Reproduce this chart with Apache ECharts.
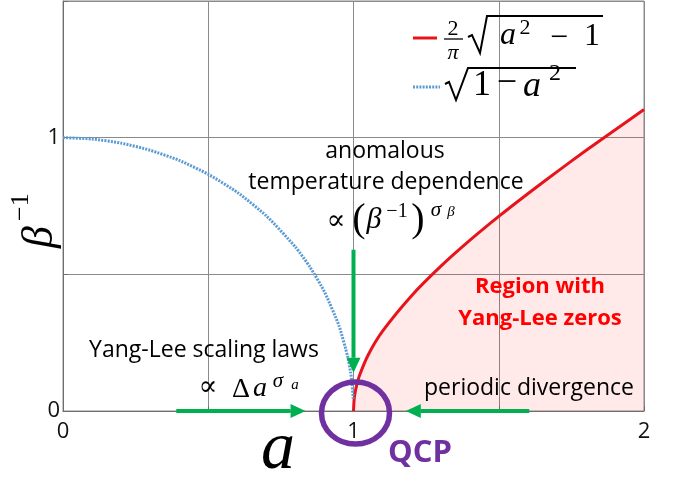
<!DOCTYPE html>
<html><head><meta charset="utf-8">
<script src="https://cdn.jsdelivr.net/npm/echarts@6/dist/echarts.min.js"></script>
<style>html,body{margin:0;padding:0;background:#fff}#c{width:678px;height:478px}</style>
</head><body><div id="c"></div>
<script>
// ---- data ----
const xTickLabels = {0: '0', 1: '1', 2: '2'};
const yTickLabels = {0: '0', 1: '1'};
// blue dotted curve  sqrt(1 - a^2)
const blueA    = [0, 0.1, 0.2, 0.3, 0.4, 0.5, 0.6, 0.7, 0.8, 0.85, 0.9, 0.95, 0.98, 0.99, 0.995, 0.999];
const blueBeta = [1, 0.995, 0.98, 0.954, 0.917, 0.866, 0.8, 0.714, 0.6, 0.527, 0.436, 0.312, 0.199, 0.141, 0.1, 0.045];
// red curve (2/pi) sqrt(a^2 - 1)
const redA    = [1, 1.002, 1.005, 1.01, 1.02, 1.05, 1.1, 1.2, 1.3, 1.4, 1.5, 1.6, 1.7, 1.8, 1.9, 2.0];
const redBeta = [0, 0.04, 0.064, 0.09, 0.128, 0.204, 0.292, 0.422, 0.529, 0.624, 0.712, 0.795, 0.875, 0.953, 1.028, 1.103];
// annotation anchors in data coordinates
const qcpPoint = [1, 0];
const arrowRightFrom = [0.39, 0], arrowRightTo = [0.835, 0];
const arrowLeftFrom = [1.605, 0], arrowLeftTo = [1.18, 0];
const arrowDownFrom = [1, 0.59], arrowDownTo = [1, 0.14];

const SANS = '"Open Sans", "Noto Sans", sans-serif';
const SERIF = '"Liberation Serif", "DejaVu Serif", serif';
const GREEN = '#00b050', PURPLE = '#7030a0', RED = '#e8141c', BLUE = '#5b9bd5';

const chart = echarts.init(document.getElementById('c'), null, {renderer: 'canvas'});
const zip = (a, b) => a.map((v, i) => [v, b[i]]);

chart.setOption({
  animation: false,
  backgroundColor: '#fff',
  grid: {left: 63, right: 34, top: 1, bottom: 67, show: true, borderColor: '#8a8a8a', borderWidth: 1,
         outerBoundsMode: 'none', containLabel: false},
  xAxis: {
    type: 'value', min: 0, max: 2, interval: 0.5,
    axisLine: {lineStyle: {color: '#6e6e6e', width: 1}},
    axisTick: {show: true, inside: true, length: 5, lineStyle: {color: '#6e6e6e'}},
    splitLine: {show: true, lineStyle: {color: '#8a8a8a', width: 1}},
    axisLabel: {fontFamily: SANS, fontSize: 22, color: '#111', margin: 10,
      formatter: v => (xTickLabels[v] !== undefined ? xTickLabels[v] : '')}
  },
  yAxis: {
    type: 'value', min: 0, max: 1.5, interval: 0.5,
    axisLine: {show: true, lineStyle: {color: '#6e6e6e', width: 1}},
    axisTick: {show: true, inside: true, length: 5, lineStyle: {color: '#6e6e6e'}},
    splitLine: {show: true, lineStyle: {color: '#8a8a8a', width: 1}},
    axisLabel: {fontFamily: SANS, fontSize: 22, color: '#111', margin: 3,
      formatter: v => (yTickLabels[v] !== undefined ? yTickLabels[v] : '')}
  },
  series: [
    {type: 'line', data: zip(redA, redBeta), showSymbol: false, smooth: 0.2,
     lineStyle: {color: RED, width: 3}, areaStyle: {color: 'rgba(255,0,0,0.12)', origin: 'start'}, z: 3},
    {type: 'line', data: zip(blueA, blueBeta), showSymbol: false, smooth: 0.2,
     lineStyle: {color: BLUE, width: 3, type: [2, 1.2]}, z: 3}
  ]
});

const P = p => chart.convertToPixel({gridIndex: 0}, p);
function T(x, y, text, font, fill, align) {
  return {type: 'text', x: x, y: y, z: 100,
    style: {text: text, font: font, fill: fill || '#000', align: align || 'center', verticalAlign: 'middle'}};
}
function L(pts, color, w) {
  return {type: 'polyline', z: 100, shape: {points: pts}, style: {stroke: color, lineWidth: w, fill: null, lineJoin: 'miter'}};
}
function arrow(fromD, toD) {
  const a = P(fromD), b = P(toD);
  const dx = b[0] - a[0], dy = b[1] - a[1];
  const len = Math.hypot(dx, dy), ux = dx / len, uy = dy / len;
  const hl = 15, hw = 7;
  const bx = b[0] - ux * hl, by = b[1] - uy * hl;
  return [
    L([a, [bx, by]], GREEN, 4),
    {type: 'polygon', z: 100, shape: {points: [[b[0], b[1]], [bx - uy * hw, by + ux * hw], [bx + uy * hw, by - ux * hw]]},
     style: {fill: GREEN}}
  ];
}
const q = P(qcpPoint);
const g = [];
// arrows
g.push(...arrow(arrowRightFrom, arrowRightTo));
g.push(...arrow(arrowLeftFrom, arrowLeftTo));
g.push(...arrow(arrowDownFrom, arrowDownTo));
// QCP circle
g.push({type: 'ellipse', z: 101, shape: {cx: q[0] + 2, cy: q[1] + 2, rx: 34, ry: 31},
  style: {stroke: PURPLE, lineWidth: 5.5, fill: null}});
g.push(T(420, 453, 'QCP', 'bold 31px ' + SANS, PURPLE));
// axis names
g.push(T(278, 450, 'a', 'italic 68px ' + SERIF));
g.push({type: 'group', x: 54, y: 248, rotation: Math.PI / 2, z: 100, children: [
  {type: 'text', x: 0, y: -14, style: {text: 'β', font: 'italic 44px ' + SERIF, fill: '#000', align: 'left', verticalAlign: 'middle'}},
  {type: 'text', x: 27, y: -33, style: {text: '−1', font: '26px ' + SERIF, fill: '#000', align: 'left', verticalAlign: 'middle'}}
]});
// texts
g.push(T(385, 151, 'anomalous', '23px ' + SANS));
g.push(T(386, 182, 'temperature dependence', '23px ' + SANS));
g.push(T(204, 350, 'Yang-Lee scaling laws', '23px ' + SANS));
g.push(T(529, 388, 'periodic divergence', '23px ' + SANS));
g.push(T(540, 287, 'Region with', 'bold 22px ' + SANS, '#ff0000'));
g.push(T(540, 319, 'Yang-Lee zeros', 'bold 22px ' + SANS, '#ff0000'));
// math: ∝ (β^{-1})^{σ_β}
g.push(T(336, 222, '∝', '28px ' + SERIF));
g.push(T(359, 220, '(', '40px ' + SERIF));
g.push(T(374, 220, 'β', 'italic 30px ' + SERIF));
g.push(T(397, 212, '−1', '20px ' + SERIF));
g.push(T(418, 220, ')', '40px ' + SERIF));
g.push(T(436, 210, 'σ', 'italic 21px ' + SERIF));
g.push(T(451, 212, 'β', 'italic 15px ' + SERIF));
// math: ∝ Δa^{σ_a}
g.push(T(208, 388, '∝', '28px ' + SERIF));
g.push(T(241, 390, 'Δ', '28px ' + SERIF));
g.push(T(260, 389, 'a', 'italic 28px ' + SERIF));
g.push(T(278, 381, 'σ', 'italic 21px ' + SERIF));
g.push(T(295, 385, 'a', 'italic 15px ' + SERIF));
// legend row 1: red  (2/π) √(a²−1)
g.push(L([[413, 38], [437, 38]], RED, 3));
g.push(T(453, 29, '2', '22px ' + SERIF));
g.push(L([[444, 39], [463, 39]], '#000', 1.3));
g.push(T(453, 53, 'π', 'italic 22px ' + SERIF));
g.push(L([[468, 37], [472, 35], [480, 53], [487, 16], [603, 16]], '#000', 2));
g.push(T(508, 36, 'a', 'italic 32px ' + SERIF));
g.push(T(525, 28, '2', '22px ' + SERIF));
g.push(T(559, 39, '−', '32px ' + SERIF));
g.push(T(592, 37, '1', '32px ' + SERIF));
// legend row 2: blue dotted √(1−a²)
g.push(L([[413, 87], [440, 87]], BLUE, 3));
g[g.length - 1].style.lineDash = [2, 1.2];
g.push(L([[445, 84], [449, 82], [456, 100], [468, 68], [576, 68]], '#000', 2));
g.push(T(482, 86, '1', '36px ' + SERIF));
g.push(T(507, 84, '−', '36px ' + SERIF));
g.push(T(532, 87, 'a', 'italic 36px ' + SERIF));
g.push(T(555, 74, '2', '24px ' + SERIF));

chart.setOption({graphic: {elements: g}});
</script>
</body></html>
